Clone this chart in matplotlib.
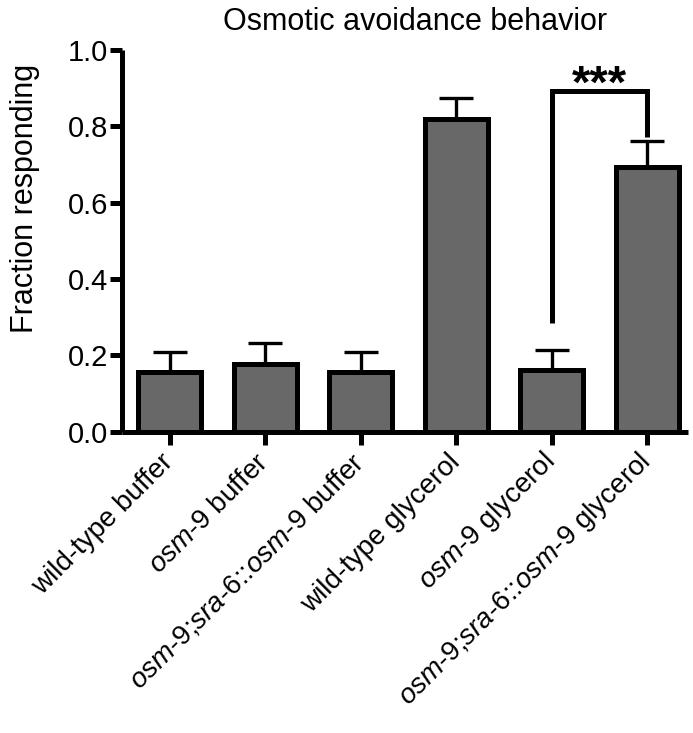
import matplotlib
matplotlib.use('Agg')
from matplotlib import pyplot as plt
import numpy as np

plt.rcParams['font.family'] = ['Liberation Sans', 'DejaVu Sans']
plt.rcParams['mathtext.fontset'] = 'custom'
plt.rcParams['mathtext.rm'] = 'Liberation Sans'
plt.rcParams['mathtext.it'] = 'Liberation Sans:italic'

# data
categories = ['wild-type buffer',
              r'$\mathit{osm}$-$\mathit{9}$ buffer',
              r'$\mathit{osm}$-$\mathit{9}$;$\mathit{sra}$-$\mathit{6}$::$\mathit{osm}$-$\mathit{9}$ buffer',
              'wild-type glycerol',
              r'$\mathit{osm}$-$\mathit{9}$ glycerol',
              r'$\mathit{osm}$-$\mathit{9}$;$\mathit{sra}$-$\mathit{6}$::$\mathit{osm}$-$\mathit{9}$ glycerol']
means = [0.156, 0.177, 0.156, 0.819, 0.162, 0.694]
sem = [0.053, 0.055, 0.053, 0.056, 0.052, 0.066]
sig_pair = (4, 5)
sig_text = '***'
sig_top = 0.891
sig_left_bottom = 0.285
sig_right_bottom = 0.773

fig = plt.figure(figsize=(6.93, 7.33), dpi=100)
ax = fig.add_axes([0.176, 0.411, 0.817, 0.521])

x = np.arange(len(categories))
lw = 3.6
ax.bar(x, means, width=0.66, color='#686868', edgecolor='black', linewidth=lw, zorder=2)
ax.errorbar(x, means, yerr=[np.zeros(len(sem)), sem], fmt='none', ecolor='black',
            elinewidth=2.4, capsize=12, capthick=2.4, zorder=1)

# significance bracket
i, j = sig_pair
ax.plot([i, i, j, j], [sig_left_bottom, sig_top, sig_top, sig_right_bottom],
        color='black', linewidth=lw, solid_capstyle='butt', solid_joinstyle='miter', zorder=3)
ax.text((i + j) / 2, 0.875, sig_text, ha='center', va='baseline', fontsize=34,
        fontweight='bold')

ax.set_xlim(-0.5, 5.43)
ax.set_ylim(0, 1.0)
ax.set_yticks([0.0, 0.2, 0.4, 0.6, 0.8, 1.0])
ax.set_yticklabels(['0.0', '0.2', '0.4', '0.6', '0.8', '1.0'])
ax.set_xticks(x)
ax.set_xticklabels(categories, rotation=45, ha='right', va='center', rotation_mode='anchor')
ax.tick_params(axis='y', labelsize=21, width=lw, length=9, direction='out', pad=1)
ax.tick_params(axis='x', labelsize=20, width=lw, length=9, direction='out', pad=10)

for s in ['top', 'right']:
    ax.spines[s].set_visible(False)
for s in ['left', 'bottom']:
    ax.spines[s].set_linewidth(lw)
    ax.spines[s].set_capstyle('butt')

fig.text(25 / 693, 1 - 198 / 733, 'Fraction responding', rotation=90, ha='center', va='center',
         fontsize=22)
fig.text(415 / 693, 1 - 22 / 733, 'Osmotic avoidance behavior', ha='center', va='center',
         fontsize=22)

plt.savefig('out.png', dpi=100)
